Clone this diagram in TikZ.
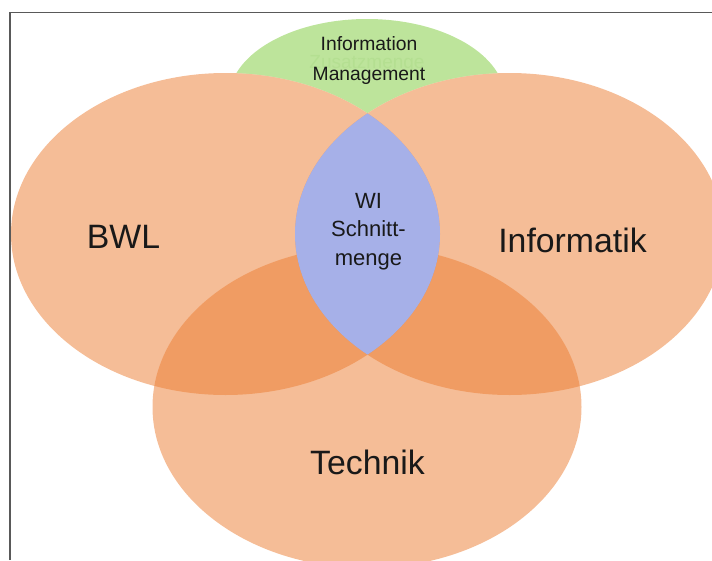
\documentclass[tikz,border=0pt]{standalone}
\usepackage{fontspec}
\setmainfont{Liberation Sans}
\definecolor{orangeset}{RGB}{237,125,49}
\definecolor{greenset}{RGB}{189,228,155}
\definecolor{blueset}{RGB}{166,176,232}
\definecolor{zusatzgreen}{RGB}{180,223,145}
\tikzset{
  setfill/.style={fill=orangeset, fill opacity=0.5},
  biglabel/.style={font=\fontsize{33.8}{36}\selectfont, text=black!90},
  smalllabel/.style={font=\fontsize{19.3}{30}\selectfont, align=center, text=black!90},
  wilabel/.style={font=\fontsize{22}{28.5}\selectfont, align=center, text=black!90},
}

\begin{document}
\begin{tikzpicture}[x=1pt, y=-1pt]
  \useasboundingbox (0,0) rectangle (712,560);
  \draw[black!65, line width=1.2pt] (10,560) -- (10,12.5) -- (712,12.5);
  % zusatzmenge
  \fill[greenset] (367,99) ellipse [x radius=138, y radius=80];
  \node[font=\fontsize{19}{22}\selectfont, text=zusatzgreen] (zusatz) at (367,64) {Zusatzmenge};
  % three sets
  \fill[white] (225.5,234) ellipse [x radius=214.5, y radius=161]
               (509.5,234) ellipse [x radius=214.5, y radius=161]
               (367,407) ellipse [x radius=214.5, y radius=161];
  \fill[setfill] (225.5,234) ellipse [x radius=214.5, y radius=161];
  \fill[setfill] (509.5,234) ellipse [x radius=214.5, y radius=161];
  \fill[setfill] (367,407) ellipse [x radius=214.5, y radius=161];
  % schnittmenge
  \begin{scope}
    \clip (225.5,234) ellipse [x radius=214.5, y radius=161];
    \fill[blueset] (509.5,234) ellipse [x radius=214.5, y radius=161];
  \end{scope}
  \node[smalllabel] (info) at (369,61) {Information\\Management};
  \node[biglabel] (bwl) at (123.5,237) {BWL};
  \node[biglabel] (informatik) at (572.5,240) {Informatik};
  \node[biglabel] (technik) at (367.5,462) {Technik};
  \node[wilabel] (wi) at (368.5,231.5) {WI\\Schnitt-\\menge};
\end{tikzpicture}
\end{document}
